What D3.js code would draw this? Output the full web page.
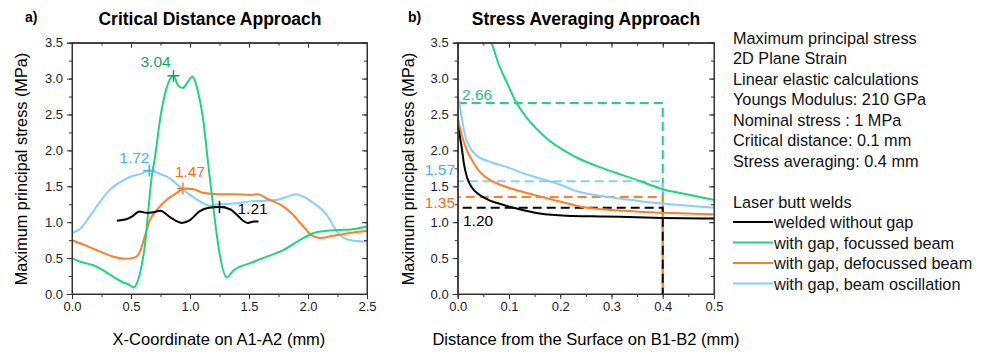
<!DOCTYPE html>
<html><head><meta charset="utf-8">
<script src="https://cdn.jsdelivr.net/npm/d3@7"></script>
<style>
body{margin:0;background:#fff;}
svg{display:block;font-family:"Liberation Sans",Arial,sans-serif;}
</style></head><body>
<svg id="c" width="988" height="354"></svg>
<script>
// ---------- DATA ----------
const seriesNames = ["welded without gap","with gap, focussed beam","with gap, defocussed beam","with gap, beam oscillation"];
const seriesColors = ["#000000","#1fd480","#ff7f27","#86ceff"];
const labelColors = ["#000000","#1a9e5a","#ff6a13","#3ab4f2"];

// Panel a) Critical distance approach (x in mm, stress in MPa)
const noGapA = [[0.38,1.02],[0.46,1.04],[0.51,1.08],[0.57,1.15],[0.63,1.13],[0.69,1.14],[0.75,1.16],[0.83,1.07],[0.93,0.99],[1.0,1.03],[1.08,1.15],[1.16,1.20],[1.25,1.21],[1.34,1.18],[1.40,1.10],[1.45,1.02],[1.49,0.99],[1.54,1.01],[1.58,1.01]];
const focusA = [[0,0.50],[0.07,0.45],[0.18,0.40],[0.265,0.33],[0.35,0.24],[0.435,0.16],[0.49,0.125],[0.52,0.09],[0.576,0.29],[0.62,0.71],[0.647,1.17],[0.675,1.63],[0.70,1.87],[0.75,2.47],[0.80,2.86],[0.86,3.04],[0.90,2.90],[0.94,2.87],[0.98,2.95],[1.02,3.03],[1.07,2.80],[1.11,2.45],[1.155,1.80],[1.20,1.17],[1.25,0.57],[1.31,0.23],[1.37,0.33],[1.51,0.43],[1.65,0.52],[1.79,0.61],[1.93,0.75],[2.05,0.85],[2.16,0.88],[2.27,0.89],[2.41,0.91],[2.5,0.94]];
const defocusA = [[0,0.75],[0.124,0.67],[0.24,0.59],[0.35,0.52],[0.46,0.49],[0.534,0.51],[0.576,0.59],[0.62,0.82],[0.66,1.03],[0.72,1.17],[0.80,1.31],[0.89,1.41],[0.94,1.47],[1.03,1.46],[1.11,1.41],[1.24,1.39],[1.37,1.39],[1.51,1.38],[1.58,1.39],[1.65,1.33],[1.79,1.22],[1.875,1.10],[1.96,0.94],[2.03,0.82],[2.10,0.78],[2.21,0.81],[2.36,0.85],[2.5,0.88]];
const oscA = [[0,0.85],[0.07,0.91],[0.15,1.08],[0.24,1.29],[0.32,1.45],[0.41,1.56],[0.49,1.63],[0.576,1.67],[0.655,1.72],[0.75,1.67],[0.83,1.61],[0.915,1.49],[1.0,1.38],[1.085,1.29],[1.17,1.23],[1.23,1.25],[1.37,1.26],[1.51,1.29],[1.65,1.30],[1.76,1.32],[1.85,1.37],[1.90,1.39],[1.99,1.33],[2.07,1.24],[2.16,1.10],[2.21,0.96],[2.27,0.82],[2.36,0.75],[2.5,0.73]];
// maximum points marked in panel a)
const maxA = [[1.25,1.21],[0.86,3.04],[0.94,1.47],[0.655,1.72]];
const maxLabelsA = ["1.21","3.04","1.47","1.72"];

// Panel b) Stress averaging approach
const noGapB = [[0,2.35],[0.004,2.2],[0.008,2.03],[0.012,1.82],[0.018,1.63],[0.027,1.49],[0.043,1.38],[0.06,1.31],[0.09,1.24],[0.115,1.19],[0.16,1.12],[0.212,1.09],[0.284,1.08],[0.349,1.07],[0.40,1.06],[0.5,1.05]];
const focusB = [[0.058,3.65],[0.066,3.5],[0.08,3.2],[0.095,2.96],[0.115,2.66],[0.141,2.40],[0.173,2.17],[0.212,1.98],[0.238,1.88],[0.284,1.75],[0.349,1.59],[0.40,1.46],[0.446,1.39],[0.5,1.31]];
const defocusB = [[0,2.45],[0.008,2.21],[0.018,2.0],[0.03,1.84],[0.043,1.70],[0.063,1.59],[0.095,1.49],[0.128,1.42],[0.16,1.36],[0.193,1.30],[0.238,1.22],[0.3,1.17],[0.349,1.15],[0.40,1.13],[0.45,1.12],[0.5,1.11]];
const oscB = [[0,2.75],[0.003,2.66],[0.008,2.45],[0.014,2.22],[0.024,2.04],[0.037,1.93],[0.063,1.84],[0.095,1.77],[0.128,1.68],[0.16,1.61],[0.193,1.54],[0.238,1.42],[0.284,1.36],[0.349,1.30],[0.40,1.26],[0.45,1.23],[0.5,1.20]];
const avgB = [1.20,2.66,1.35,1.57];
const avgLabelsB = ["1.20","2.66","1.35","1.57"];
const avgLength = 0.4;

const xTicksA = [0,0.5,1.0,1.5,2.0,2.5];
const xTicksB = [0,0.1,0.2,0.3,0.4,0.5];
const yTicks = [0,0.5,1.0,1.5,2.0,2.5,3.0,3.5];

const infoLines = ["Maximum principal stress","2D Plane Strain","Linear elastic calculations","Youngs Modulus: 210 GPa","Nominal stress : 1 MPa","Critical distance: 0.1 mm","Stress averaging: 0.4 mm"];
const legendTitle = "Laser butt welds";

// ---------- DRAW ----------
const svg = d3.select("#c");
const plotTop = 42.7, plotBottom = 294;
const yScaleA = d3.scaleLinear().domain([0,3.5]).range([plotBottom, plotTop]);

function frame(g, x, y, xTicks, xMinorStep, xFmt){
  const [x0,x1] = x.range();
  const [y0,y1] = y.range();
  const yMinor = d3.range(0,3.5001,0.25);
  const xMinor = d3.range(x.domain()[0], x.domain()[1]+1e-9, xMinorStep);
  const axG = g.append("g").attr("class","axes");
  axG.append("g").attr("transform",`translate(0,${y0})`).call(d3.axisBottom(x).tickValues(xMinor).tickSize(3).tickFormat(""));
  axG.append("g").attr("transform",`translate(0,${y0})`).call(d3.axisBottom(x).tickValues(xTicks).tickSize(5).tickPadding(3).tickFormat(xFmt));
  axG.append("g").attr("transform",`translate(0,${y1})`).call(d3.axisTop(x).tickValues(xMinor).tickSize(-3).tickFormat(""));
  axG.append("g").attr("transform",`translate(0,${y1})`).call(d3.axisTop(x).tickValues(xTicks).tickSize(-5).tickFormat(""));
  axG.append("g").attr("transform",`translate(${x0},0)`).call(d3.axisLeft(y).tickValues(yMinor).tickSize(3).tickFormat(""));
  axG.append("g").attr("transform",`translate(${x0},0)`).call(d3.axisLeft(y).tickValues(yTicks).tickSize(5).tickPadding(4).tickFormat(d3.format(".1f")));
  axG.append("g").attr("transform",`translate(${x1},0)`).call(d3.axisRight(y).tickValues(yMinor).tickSize(-3).tickFormat(""));
  axG.append("g").attr("transform",`translate(${x1},0)`).call(d3.axisRight(y).tickValues(yTicks).tickSize(-5).tickFormat(""));
  axG.selectAll(".domain").attr("stroke","#333");
  axG.selectAll(".tick line").attr("stroke","#333");
  axG.selectAll(".tick text").attr("font-size","13px").attr("fill","#222").attr("font-family","Liberation Sans, Arial, sans-serif");
  g.append("rect").attr("x",x0).attr("y",y1).attr("width",x1-x0).attr("height",y0-y1)
    .attr("fill","none").attr("stroke","#333").attr("stroke-width",1);
}

function plus(g, cx, cy, s, color){
  g.append("path").attr("d",`M${cx-s},${cy}H${cx+s}M${cx},${cy-s}V${cy+s}`)
   .attr("stroke",color).attr("stroke-width",1.5).attr("fill","none");
}

// ---- Panel a ----
const xA = d3.scaleLinear().domain([0,2.5]).range([72,367]);
const gA = svg.append("g");
const lineA = d3.line().x(d=>xA(d[0])).y(d=>yScaleA(d[1])).curve(d3.curveMonotoneX);
const dataA = [noGapA, focusA, defocusA, oscA];
[3,2,1,0].forEach(i=>{
  gA.append("path").datum(dataA[i]).attr("d",lineA).attr("fill","none")
    .attr("stroke",seriesColors[i]).attr("stroke-width",2).attr("stroke-linejoin","round");
});
frame(gA, xA, yScaleA, xTicksA, 0.25, d3.format(".1f"));
const markerColors = ["#000000","#1a9e5a","#ff7f27","#3ab4f2"];
const labOffA = [[18,7],[-33,-9],[-8,-11.5],[-30,-7.5]];
maxA.forEach((p,i)=>{
  plus(gA, xA(p[0]), yScaleA(p[1]), 6, markerColors[i]);
  gA.append("text").attr("x",xA(p[0])+labOffA[i][0]).attr("y",yScaleA(p[1])+labOffA[i][1])
    .attr("font-size","15.5px").attr("fill",labelColors[i]).text(maxLabelsA[i]);
});
gA.append("text").attr("x",25).attr("y",22).attr("font-size","14px").attr("font-weight","bold").text("a)");
gA.append("text").attr("x",210).attr("y",25).attr("text-anchor","middle").attr("font-size","17.5px").attr("font-weight","bold").text("Critical Distance Approach");
gA.append("text").attr("x",219).attr("y",345).attr("text-anchor","middle").attr("font-size","16.5px").text("X-Coordinate on A1-A2 (mm)");
gA.append("text").attr("transform","translate(27,169) rotate(-90)").attr("text-anchor","middle").attr("font-size","16.3px").text("Maximum principal stress (MPa)");

// ---- Panel b ----
const xB = d3.scaleLinear().domain([0,0.5]).range([457.7,714]);
const gB = svg.append("g");
svg.append("defs").append("clipPath").attr("id","clipB").append("rect")
  .attr("x",457.7).attr("y",plotTop).attr("width",714-457.7).attr("height",plotBottom-plotTop);
const lineB = d3.line().x(d=>xB(d[0])).y(d=>yScaleA(d[1])).curve(d3.curveMonotoneX);
const dataB = [noGapB, focusB, defocusB, oscB];
const plotB = gB.append("g").attr("clip-path","url(#clipB)");
[1,3,2,0].forEach((i,k)=>{
  const v = avgB[i];
  plotB.append("path").datum([[0,v],[avgLength,v],[avgLength,0]])
    .attr("d",d3.line().x(d=>xB(d[0])).y(d=>yScaleA(d[1])))
    .attr("fill","none").attr("stroke",seriesColors[i]).attr("stroke-width",2)
    .attr("stroke-dasharray","9,5").attr("stroke-dashoffset",k*3);
});
[3,2,1,0].forEach(i=>{
  plotB.append("path").datum(dataB[i]).attr("d",lineB).attr("fill","none")
    .attr("stroke",seriesColors[i]).attr("stroke-width",2);
});
frame(gB, xB, yScaleA, xTicksB, 0.05, d3.format(".1f"));
const avgLabPos = [[463,226,"start"],[462,100,"start"],[455,207.5,"end"],[455,175,"end"]];
avgB.forEach((v,i)=>{
  gB.append("text").attr("x",avgLabPos[i][0]).attr("y",avgLabPos[i][1])
    .attr("text-anchor",avgLabPos[i][2]).attr("font-size","15.5px")
    .attr("fill", i===1 ? "#22c472" : labelColors[i]).text(avgLabelsB[i]);
});
gB.append("text").attr("x",408).attr("y",22).attr("font-size","14px").attr("font-weight","bold").text("b)");
gB.append("text").attr("x",586).attr("y",25).attr("text-anchor","middle").attr("font-size","17.5px").attr("font-weight","bold").text("Stress Averaging Approach");
gB.append("text").attr("x",586).attr("y",345).attr("text-anchor","middle").attr("font-size","16.5px").text("Distance from the Surface on B1-B2 (mm)");
gB.append("text").attr("transform","translate(414,169) rotate(-90)").attr("text-anchor","middle").attr("font-size","16.3px").text("Maximum principal stress (MPa)");

// ---- Info + legend ----
const gL = svg.append("g");
const legFont = "16.3px";
infoLines.forEach((t,i)=>{
  gL.append("text").attr("x",733).attr("y",43.5+20.5*i).attr("font-size",legFont).attr("fill","#111").text(t);
});
gL.append("text").attr("x",733).attr("y",43.5+20.5*8).attr("font-size",legFont).attr("fill","#111").text(legendTitle);
seriesNames.forEach((t,i)=>{
  const yb = 43.5+20.5*(9+i);
  gL.append("line").attr("x1",733).attr("x2",773).attr("y1",yb-6).attr("y2",yb-6)
    .attr("stroke",seriesColors[i]).attr("stroke-width",2);
  gL.append("text").attr("x",774).attr("y",yb).attr("font-size",legFont).attr("fill","#111").text(t);
});
</script>
</body></html>
